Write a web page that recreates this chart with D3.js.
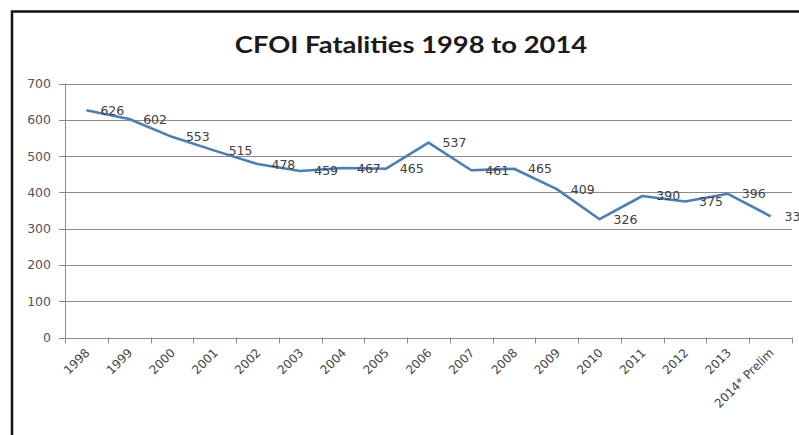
<!DOCTYPE html>
<html>
<head>
<meta charset="utf-8">
<script src="https://cdn.jsdelivr.net/npm/d3@7"></script>
<style>
  html, body { margin: 0; padding: 0; background: #fff; }
  svg { display: block; }
</style>
</head>
<body>
<div id="chart"></div>
<script>
// chart data
const years = ["1998", "1999", "2000", "2001", "2002", "2003", "2004", "2005", "2006",
               "2007", "2008", "2009", "2010", "2011", "2012", "2013", "2014* Prelim"];
const fatalities = [626, 602, 553, 515, 478, 459, 467, 465, 537,
                    461, 465, 409, 326, 390, 375, 396, 334];
const yTicks = [0, 100, 200, 300, 400, 500, 600, 700];
const chartTitle = "CFOI Fatalities 1998 to 2014";

const W = 799, H = 435;
const plot = { left: 65, right: 792, top: 83.5, bottom: 337.5 };

function renderChart() {
    const svg = d3.select("#chart").append("svg")
        .attr("width", W).attr("height", H);

    // outer frame (only top & left edges are visible in the crop)
    svg.append("path")
        .attr("d", `M12,${H + 5} V11.5 H${W + 5}`)
        .attr("fill", "none").attr("stroke", "#111").attr("stroke-width", 2.5);

    // title is a bit stretched sideways in the source image
    svg.append("text")
        .attr("transform", "translate(411,53) scale(1.19,1)")
        .attr("text-anchor", "middle")
        .attr("font-family", "Lato, 'Open Sans', sans-serif")
        .attr("font-weight", "bold").attr("font-size", 23)
        .attr("fill", "#1a1a1a")
        .text(chartTitle);

    const x = d3.scaleBand().domain(years).range([plot.left, plot.right]);
    const y = d3.scaleLinear().domain([0, 700]).range([plot.bottom, plot.top]);

    // gridlines
    svg.append("g").selectAll("line").data(yTicks).join("line")
        .attr("x1", plot.left - 6).attr("x2", plot.right)
        .attr("y1", d => Math.round(y(d)) + 0.5).attr("y2", d => Math.round(y(d)) + 0.5)
        .attr("stroke", "#8a8a8a").attr("stroke-width", 1);

    // y axis
    svg.append("line")
        .attr("x1", plot.left + 0.5).attr("x2", plot.left + 0.5)
        .attr("y1", plot.top).attr("y2", plot.bottom)
        .attr("stroke", "#8a8a8a");
    svg.append("g").selectAll("text").data(yTicks).join("text")
        .attr("x", 51).attr("y", d => y(d))
        .attr("dy", "0.36em")
        .attr("text-anchor", "end")
        .attr("font-family", "'DejaVu Sans', sans-serif").attr("font-size", 12.5)
        .attr("fill", "#555")
        .text(d => d);

    // x axis ticks at category boundaries
    const bounds = years.map(d => x(d)).concat([plot.right]);
    svg.append("g").selectAll("line").data(bounds).join("line")
        .attr("x1", d => Math.round(d) + 0.5).attr("x2", d => Math.round(d) + 0.5)
        .attr("y1", plot.bottom).attr("y2", plot.bottom + 6)
        .attr("stroke", "#8a8a8a");
    svg.append("g").selectAll("text").data(years).join("text")
        .attr("transform", d => `translate(${x(d) + x.bandwidth() / 2 + 4},${plot.bottom + 16}) rotate(-45)`)
        .attr("text-anchor", "end")
        .attr("font-family", "'DejaVu Sans', sans-serif").attr("font-size", 12)
        .attr("fill", "#444")
        .text(d => d);

    // series line
    const pts = years.map((d, i) => [x(d) + x.bandwidth() / 2, y(fatalities[i])]);
    svg.append("path")
        .attr("d", d3.line()(pts))
        .attr("fill", "none").attr("stroke", "#4a7ebb")
        .attr("stroke-width", 2.6).attr("stroke-linejoin", "round");

    // data labels, right of each point
    svg.append("g").selectAll("text").data(pts).join("text")
        .attr("x", d => d[0] + 14).attr("y", d => d[1])
        .attr("dy", "0.36em")
        .attr("font-family", "'DejaVu Sans', sans-serif").attr("font-size", 12.5)
        .attr("fill", "#404040")
        .text((d, i) => fatalities[i]);
}

document.addEventListener("DOMContentLoaded", renderChart);
</script>
</body>
</html>
